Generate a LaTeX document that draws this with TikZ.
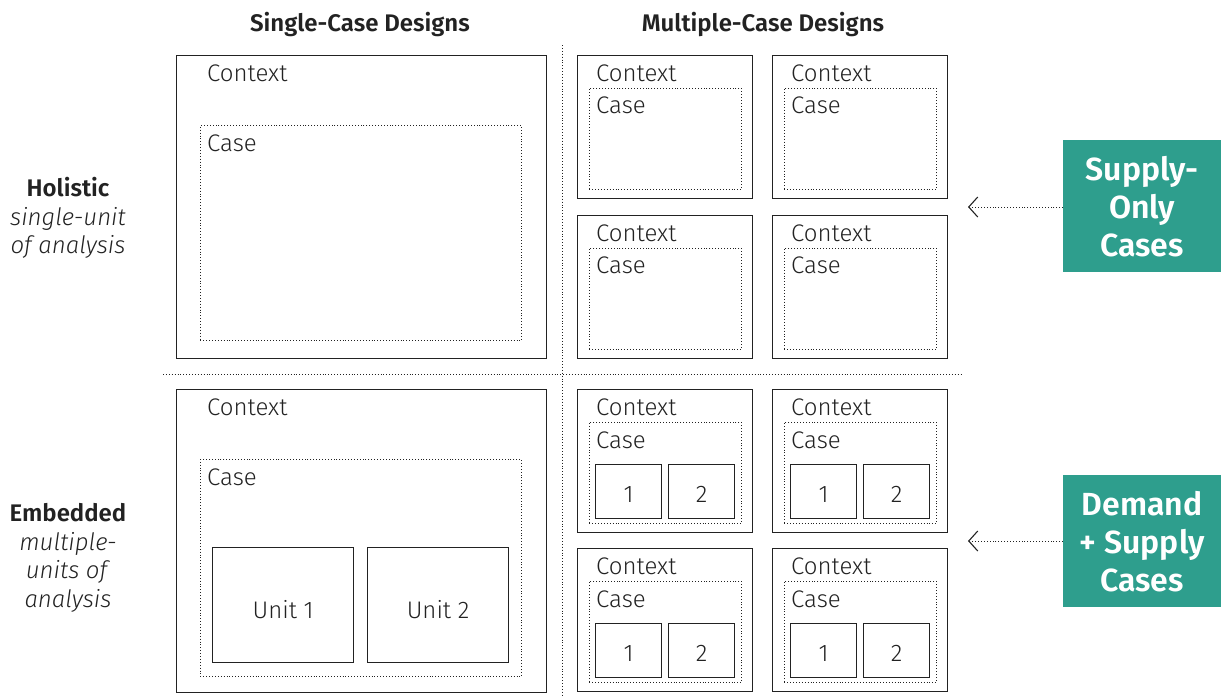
\documentclass[tikz,border=0pt]{standalone}
\usepackage{fontspec}
\setmainfont{Fira Sans}[UprightFont=* Light, ItalicFont=* Light Italic, BoldFont=* SemiBold]
\usetikzlibrary{arrows.meta}
\definecolor{ink}{HTML}{222222}
\definecolor{teal}{HTML}{2E9E8D}
\tikzset{
  ctxbox/.style={draw=ink, line width=1.3pt, anchor=north west, inner sep=0pt},
  casebox/.style={draw=ink, line width=0.9pt, dotted, anchor=north west, inner sep=0pt},
  unitbox/.style={draw=ink, line width=1.2pt, anchor=north west, inner sep=0pt},
  lbl/.style={anchor=west, inner sep=0pt, text=ink, font=\fontsize{24}{28}\selectfont},
  numlbl/.style={text=ink, font=\fontsize{24}{28}\selectfont},
  head/.style={text=ink, font=\fontsize{24}{28}\selectfont\bfseries},
  side/.style={text=ink, align=center, font=\fontsize{24}{28.5}\selectfont},
  divider/.style={draw=ink, line width=0.9pt, dotted},
  tag/.style={fill=teal, text=white, align=center, anchor=north west, inner sep=0pt,
    minimum width=158pt, minimum height=132pt, font=\fontsize{32}{38}\selectfont\bfseries},
  pointer/.style={draw=ink, line width=0.9pt, dotted, -{Straight Barb[length=9pt, width=20pt, line width=1.1pt]}}
}
\begin{document}
\begin{tikzpicture}[x=1pt, y=-1pt]
\useasboundingbox (0,0) rectangle (1221,696);

% column and row headings
\node[head] (hsingle) at (360,25) {Single-Case Designs};
\node[head] (hmulti) at (763,25) {Multiple-Case Designs};
\node[side] (hhol) at (68,218) {\textbf{Holistic}\\\textit{single-unit}\\\textit{of analysis}};
\node[side] (hemb) at (68,558) {\textbf{Embedded}\\\textit{multiple-}\\\textit{units of}\\\textit{analysis}};

% quadrant dividers
\coordinate (vtop) at (562,45);
\coordinate (vbot) at (562,696);
\coordinate (hl) at (163,374);
\coordinate (hr) at (962,374);
\draw[divider] (vtop) -- (vbot);
\draw[divider] (hl) -- (hr);

% single-case holistic
\node[ctxbox, minimum width=370pt, minimum height=303pt] (sh) at (176,55) {};
\node[casebox, minimum width=321pt, minimum height=215pt] (shc) at (200,125) {};
\node[lbl] (shct) at (207,73) {Context};
\node[lbl] (shcs) at (207,143) {Case};

% single-case embedded
\node[ctxbox, minimum width=370pt, minimum height=303pt] (se) at (176,389) {};
\node[casebox, minimum width=321pt, minimum height=217pt] (sec) at (200,459) {};
\node[lbl] (sect) at (207,407) {Context};
\node[lbl] (secs) at (207,477) {Case};
\node[unitbox, minimum width=141pt, minimum height=115pt] (su1) at (212,547) {};
\node[unitbox, minimum width=141pt, minimum height=115pt] (su2) at (367,547) {};
\node[numlbl] at ([yshift=-4pt]su1.center) {Unit 1};
\node[numlbl] at ([yshift=-4pt]su2.center) {Unit 2};

% multiple-case holistic
\foreach \x/\c in {577/a,772/b}{
  \foreach \y/\r in {55/1,215/2}{
    \node[ctxbox, minimum width=175pt, minimum height=143pt] (mh\r\c) at (\x,\y) {};
    \node[casebox, minimum width=152pt, minimum height=101pt] (mhc\r\c) at (\x+12,\y+33) {};
    \node[lbl] at (\x+19,\y+18) {Context};
    \node[lbl] at (\x+19,\y+50) {Case};
  }
}

% multiple-case embedded
\foreach \x/\c in {577/a,772/b}{
  \foreach \y/\r in {389/1,548/2}{
    \node[ctxbox, minimum width=175pt, minimum height=143pt] (me\r\c) at (\x,\y) {};
    \node[casebox, minimum width=152pt, minimum height=101pt] (mec\r\c) at (\x+12,\y+33) {};
    \node[lbl] at (\x+19,\y+18) {Context};
    \node[lbl] at (\x+19,\y+51) {Case};
    \node[unitbox, minimum width=66pt, minimum height=54pt] (mu\r\c1) at (\x+18,\y+75) {};
    \node[unitbox, minimum width=66pt, minimum height=54pt] (mu\r\c2) at (\x+91,\y+75) {};
    \node[numlbl] at ([yshift=-3pt]mu\r\c1.center) {1};
    \node[numlbl] at ([yshift=-3pt]mu\r\c2.center) {2};
  }
}

% case-type tags
\node[tag] (supply) at (1063,140) {Supply-\\Only\\Cases};
\node[tag] (demand) at (1063,475) {Demand\\+ Supply\\Cases};
\coordinate (p1) at (968,207);
\coordinate (p2) at (968,541);
\draw[pointer] (supply.west |- p1) -- (p1);
\draw[pointer] (demand.west |- p2) -- (p2);
\end{tikzpicture}
\end{document}
